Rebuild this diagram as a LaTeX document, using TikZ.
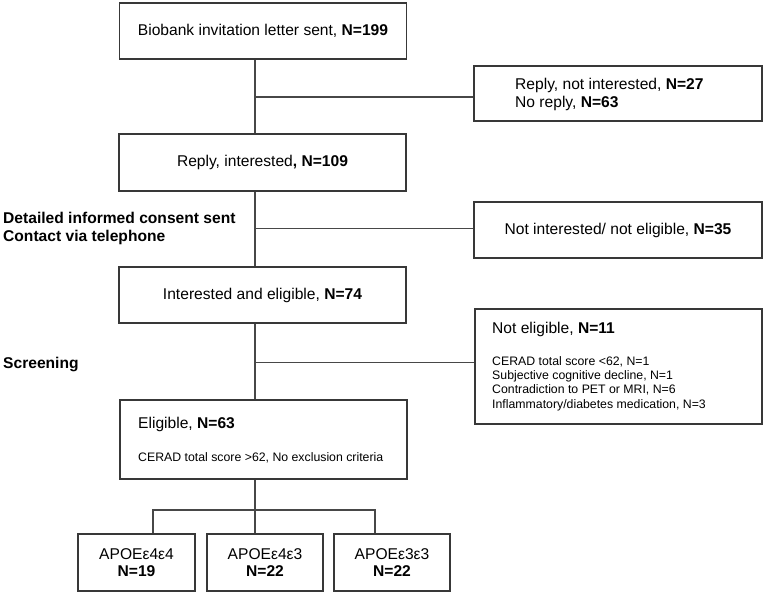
\documentclass[tikz,border=0pt]{standalone}
\usepackage{fontspec}
\setmainfont{Liberation Sans}
\newcommand{\mainsz}{\fontsize{15.6}{18}\selectfont}
\newcommand{\smallsz}{\fontsize{12.3}{14}\selectfont}
\tikzset{
  boxnode/.style={draw=black!78, line width=1.3pt, inner sep=0pt, font=\mainsz, align=center},
  txt/.style={inner sep=0pt, anchor=base west, font=\mainsz},
  smalltxt/.style={inner sep=0pt, anchor=base west, font=\smallsz},
  link/.style={draw=black!72, line width=1.4pt},
}
\begin{document}
\begin{tikzpicture}[x=1pt,y=-1pt]
\useasboundingbox (0,0) rectangle (765,594);
% main column boxes
\node[boxnode, minimum width=287, minimum height=56] (box1) at (263,31) {Biobank invitation letter sent, \textbf{N=199}};
\node[boxnode, minimum width=287, minimum height=57] (box2) at (262.5,162.5) {Reply, interested\textbf{, N=109}};
\node[boxnode, minimum width=287, minimum height=56] (box3) at (262.5,295) {Interested and eligible, \textbf{N=74}};
\node[boxnode, minimum width=287, minimum height=79] (elig) at (263.5,439.5) {};
\node[txt] (eligA) at (138,428.6) {Eligible, \textbf{N=63}};
\node[smalltxt] (eligB) at (138,461.4) {CERAD total score >62, No exclusion criteria};
% side boxes
\node[boxnode, minimum width=288, minimum height=55] (r1) at (618,93.5) {};
\node[txt] (r1a) at (515,89.6) {Reply, not interested, \textbf{N=27}};
\node[txt] (r1b) at (515,107.6) {No reply, \textbf{N=63}};
\node[boxnode, minimum width=288, minimum height=56] (r2) at (618,230) {Not interested/ not eligible, \textbf{N=35}};
\node[boxnode, minimum width=287, minimum height=115] (r3) at (618.5,366.5) {};
\node[txt] (r3a) at (492,333.6) {Not eligible, \textbf{N=11}};
\node[smalltxt] (r3b) at (492,365.4) {CERAD total score <62, N=1};
\node[smalltxt] (r3c) at (492,379.6) {Subjective cognitive decline, N=1};
\node[smalltxt] (r3d) at (492,393.8) {Contradiction to PET or MRI, N=6};
\node[smalltxt] (r3e) at (492,408) {Inflammatory/diabetes medication, N=3};
% APOE boxes
\node[boxnode, minimum width=117, minimum height=57, font={\fontsize{15.6}{16.5}\selectfont}] (ap1) at (136.5,562.5) {APOEε4ε4\\\textbf{N=19}};
\node[boxnode, minimum width=116, minimum height=57, font={\fontsize{15.6}{16.5}\selectfont}] (ap2) at (265,562.5) {APOEε4ε3\\\textbf{N=22}};
\node[boxnode, minimum width=116, minimum height=57, font={\fontsize{15.6}{16.5}\selectfont}] (ap3) at (392,562.5) {APOEε3ε3\\\textbf{N=22}};
% left labels
\node[txt, font=\mainsz\bfseries] (lab1) at (3,223.6) {Detailed informed consent sent};
\node[txt, font=\mainsz\bfseries] (lab2) at (3,241.6) {Contact via telephone};
\node[txt, font=\mainsz\bfseries] (lab3) at (3,368.6) {Screening};
% connectors
\coordinate (tx) at (255,0);
\coordinate (b1) at (255,97);
\coordinate (b2) at (255,228.5);
\coordinate (b3) at (255,362.5);
\coordinate (d1) at (153,510);
\coordinate (d3) at (375,510);
\draw[link] (box1.south -| tx) -- (box2.north -| tx);
\draw[link] (box2.south -| tx) -- (box3.north -| tx);
\draw[link] (box3.south -| tx) -- (elig.north -| tx);
\draw[link] (elig.south -| tx) -- (ap2.north -| tx);
\draw[link] (b1) -- (b1 -| r1.west);
\draw[link] (b2) -- (b2 -| r2.west);
\draw[link] (b3) -- (b3 -| r3.west);
\draw[link] (ap1.north -| d1) -- (d1) -- (d3) -- (ap3.north -| d3);
\end{tikzpicture}
\end{document}
